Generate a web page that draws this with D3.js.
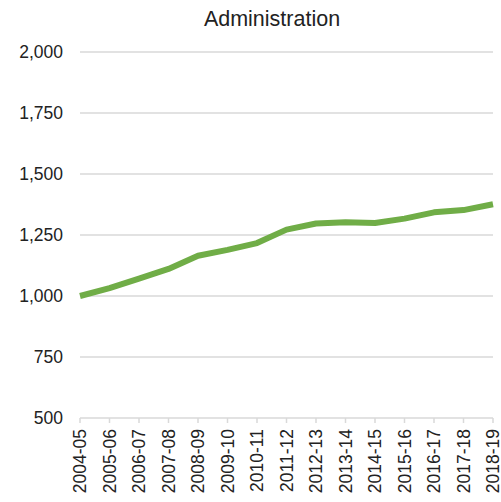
<!DOCTYPE html>
<html><head><meta charset="utf-8">
<script src="https://cdn.jsdelivr.net/npm/d3@7"></script>
<style>body{margin:0;background:#fff;} text{font-family:"Liberation Sans",Arial,sans-serif;fill:#222;}</style>
</head><body>
<svg id="c" width="501" height="502"></svg>
<script>
const categories = ["2004-05","2005-06","2006-07","2007-08","2008-09","2009-10","2010-11","2011-12","2012-13","2013-14","2014-15","2015-16","2016-17","2017-18","2018-19"];
const values = [1000,1032,1071,1111,1165,1189,1217,1272,1297,1302,1299,1317,1343,1352,1376];
const yTicks = [500,750,1000,1250,1500,1750,2000];
const title = "Administration";

const svg = d3.select("#c");
const x = d3.scalePoint().domain(categories).range([80, 493]);
const y = d3.scaleLinear().domain([500, 2000]).range([418, 52]);

svg.selectAll("line.grid").data(yTicks).join("line")
  .attr("x1", 80).attr("x2", 493)
  .attr("y1", d => y(d)).attr("y2", d => y(d))
  .attr("stroke", "#d9d9d9").attr("stroke-width", 1.5);

svg.selectAll("text.yl").data(yTicks).join("text")
  .attr("x", 63).attr("y", d => y(d)).attr("dy", "0.35em")
  .attr("text-anchor", "end").attr("font-size", 17.5)
  .text(d => d3.format(",")(d));

svg.selectAll("line.tk").data(categories).join("line")
  .attr("x1", d => x(d)).attr("x2", d => x(d))
  .attr("y1", 418).attr("y2", 423)
  .attr("stroke", "#d9d9d9").attr("stroke-width", 1.5);

svg.selectAll("text.xl").data(categories).join("text")
  .attr("transform", d => `translate(${x(d)},429) rotate(-90)`)
  .attr("dy", "0.35em").attr("text-anchor", "end").attr("font-size", 17.5)
  .text(d => d);

svg.append("path").datum(values)
  .attr("fill", "none").attr("stroke", "#70ad47").attr("stroke-width", 6)
  .attr("stroke-linejoin", "round")
  .attr("d", d3.line().x((d, i) => x(categories[i])).y(d => y(d)));

svg.append("text").attr("x", 272).attr("y", 26).attr("text-anchor", "middle")
  .attr("font-size", 21.5).text(title);
</script>
</body></html>
